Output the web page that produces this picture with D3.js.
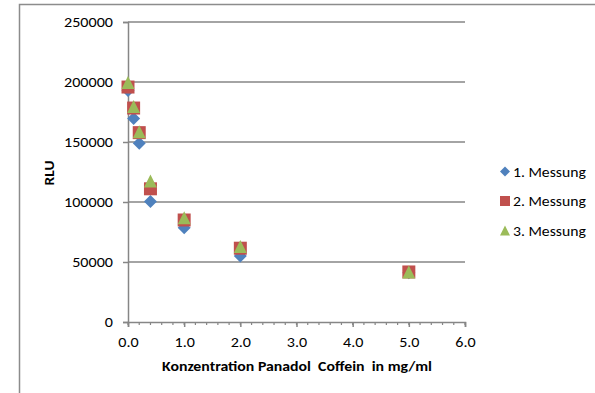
<!DOCTYPE html>
<html><head><meta charset="utf-8">
<script src="https://cdn.jsdelivr.net/npm/d3@7"></script>
<style>body{margin:0;background:#fff}svg{display:block}text{font-family:Carlito,Calibri,"Liberation Sans",sans-serif}</style>
</head><body><svg id="c" width="595" height="393"></svg>
<script>
const concentrations = [0, 0.1, 0.2, 0.4, 1.0, 2.0, 5.0];
const messung1 = [193000, 169500, 149000, 100500, 78500, 55000, 41000];
const messung2 = [195800, 178300, 157800, 111000, 85000, 61500, 41700];
const messung3 = [199600, 179500, 158500, 117500, 86800, 63000, 41700];
const seriesNames = ["1. Messung", "2. Messung", "3. Messung"];
const xTicks = [0, 1, 2, 3, 4, 5, 6];
const yTicks = [0, 50000, 100000, 150000, 200000, 250000];

const svg = d3.select("#c");
const colors = ["#4F81BD", "#C0504D", "#9BBB59"];
const x = d3.scaleLinear().domain([0, 6]).range([128, 465]);
const y = d3.scaleLinear().domain([0, 250000]).range([322, 22]);
const STRETCH = 1.15;

function stretch(sel, f) {
  sel.each(function () {
    const L = this.getComputedTextLength();
    d3.select(this).attr("textLength", L * f).attr("lengthAdjust", "spacingAndGlyphs");
  });
}

// marker shapes, box-centered
function markerPath(kind, s) {
  const h = s / 2;
  if (kind === 0) return `M0,${-h}L${h},0L0,${h}L${-h},0Z`;
  if (kind === 1) return `M${-h},${-h}H${h}V${h}H${-h}Z`;
  return `M0,${-h}L${h},${h}H${-h}Z`;
}

svg.append("rect").attr("x", 19.5).attr("y", 4.5).attr("width", 600).attr("height", 400)
  .attr("fill", "none").attr("stroke", "#8c8c8c").attr("stroke-width", 1.5);

// gridlines
svg.append("g").selectAll("line").data(yTicks.filter(d => d > 0)).join("line")
  .attr("x1", x(0)).attr("x2", x(6)).attr("y1", d => y(d)).attr("y2", d => y(d))
  .attr("stroke", "#868686").attr("stroke-width", 1.5);

// y axis
const yAxis = svg.append("g").attr("transform", `translate(${x(0)},0)`)
  .call(d3.axisLeft(y).tickValues(yTicks).tickFormat(d3.format("d")).tickSize(5).tickPadding(10));
yAxis.select(".domain").attr("stroke", "#868686").attr("stroke-width", 1.5);
yAxis.selectAll(".tick line").attr("stroke", "#868686").attr("stroke-width", 1.5);
yAxis.selectAll("text").attr("font-size", 14).attr("fill", "#000").attr("dy", "0.35em").call(stretch, STRETCH);

// x minor ticks
svg.append("g").selectAll("line").data(d3.range(0, 31).map(i => i * 0.2)).join("line")
  .attr("x1", d => x(d)).attr("x2", d => x(d)).attr("y1", y(0)).attr("y2", y(0) + 3)
  .attr("stroke", "#868686").attr("stroke-width", 1.2);
const xAxis = svg.append("g").attr("transform", `translate(0,${y(0)})`)
  .call(d3.axisBottom(x).tickValues(xTicks).tickFormat(d3.format(".1f")).tickSize(5).tickPadding(10));
xAxis.select(".domain").attr("stroke", "#868686").attr("stroke-width", 1.5);
xAxis.selectAll(".tick line").attr("stroke", "#868686").attr("stroke-width", 1.5);
xAxis.selectAll("text").attr("font-size", 14).attr("fill", "#000").call(stretch, STRETCH);

// titles
svg.append("text").attr("x", 297).attr("y", 371).attr("text-anchor", "middle")
  .attr("font-size", 13).attr("font-weight", "bold").style("white-space", "pre")
  .attr("textLength", 270).attr("lengthAdjust", "spacingAndGlyphs")
  .text("Konzentration Panadol  Coffein  in mg/ml");
svg.append("text").attr("transform", "translate(54,173) rotate(-90)").attr("text-anchor", "middle")
  .attr("font-size", 14).attr("font-weight", "bold").text("RLU").call(stretch, 1.1);

// points
const allSeries = [messung1, messung2, messung3];
allSeries.forEach((vals, si) => {
  svg.append("g").selectAll("path").data(vals).join("path")
    .attr("d", markerPath(si, 13))
    .attr("transform", (d, i) => `translate(${x(concentrations[i])},${y(d)})`)
    .attr("fill", colors[si]);
});

// legend
const leg = svg.append("g");
seriesNames.forEach((n, i) => {
  const ly = 171.5 + i * 29.5;
  leg.append("path").attr("d", markerPath(i, 10))
    .attr("transform", `translate(505,${ly})`).attr("fill", colors[i]);
  leg.append("text").attr("x", 513).attr("y", ly + 5).attr("font-size", 14).text(n).call(stretch, 1.12);
});
</script></body></html>
